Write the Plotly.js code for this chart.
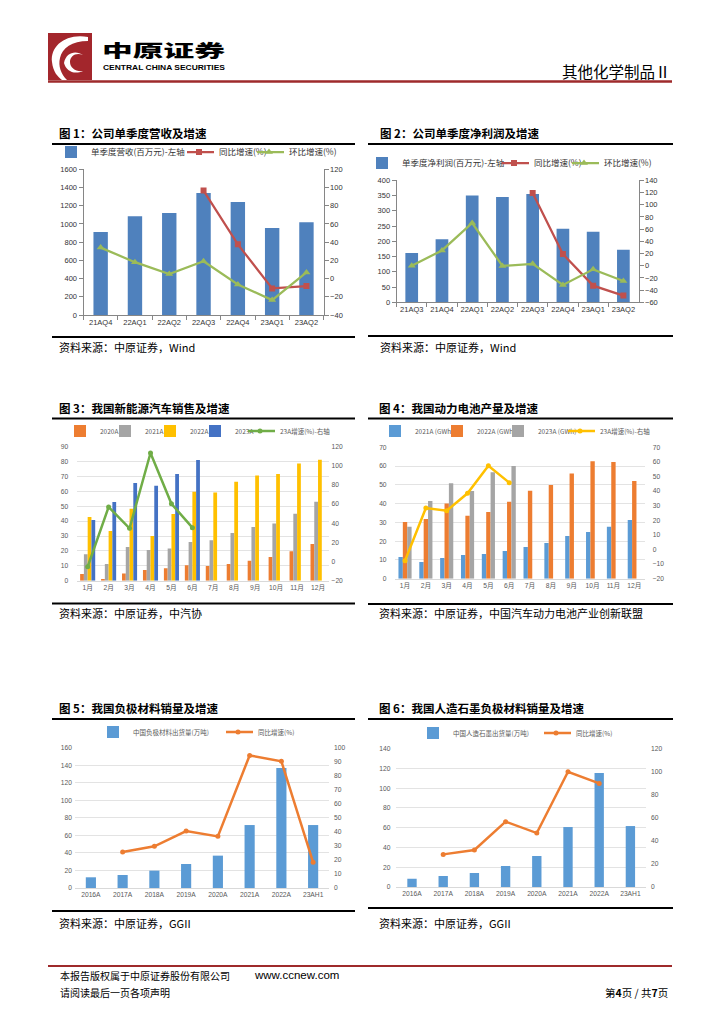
<!DOCTYPE html>
<html><head><meta charset="utf-8">
<script src="https://cdn.plot.ly/plotly-3.0.1.min.js"></script>
<style>
html,body{margin:0;padding:0;background:#fff;}
#wrap{position:relative;width:724px;height:1024px;overflow:hidden;background:#fff;}
#chart{position:absolute;left:0;top:0;width:724px;height:1024px;}
#logo{position:absolute;left:0;top:0;}
</style></head><body>
<div id="wrap"><div id="chart"></div>
<svg id="logo" width="724" height="90">
<rect x="48" y="33" width="44" height="47" fill="#A3262C"/>
<path d="M88 37 C66 33 50 46 52 62 C53 72 58 77 62 80 L67 80 C61 74 58 66 60 58 C62 48 72 41 88 41 Z" fill="#fff"/>
<path d="M64 63 C66 71 74 75 83 71 C76 72 70 68 70 62 C70 56 76 52 83 55 C76 50 66 52 64 63 Z" fill="#fff"/>
<text x="102" y="56.5" font-family="Noto Sans CJK SC" font-weight="900" font-size="17" textLength="123" lengthAdjust="spacingAndGlyphs">中原证券</text>
<text x="103" y="69.5" font-family="Liberation Sans" font-weight="bold" font-size="6.5" textLength="122" lengthAdjust="spacingAndGlyphs">CENTRAL CHINA SECURITIES</text>
</svg>
</div>
<script>
// ---------- DATA ----------
const quarters1 = ['21AQ4','22AQ1','22AQ2','22AQ3','22AQ4','23AQ1','23AQ2'];
const revenue1 = [912,1084,1121,1340,1242,956,1018];
const revYoY1 = [null,null,null,96.6,37.6,-10.8,-8.2];
const revQoQ1 = [34,18,5,19,-6.4,-23.6,6.8];

const quarters2 = ['21AQ3','21AQ4','22AQ1','22AQ2','22AQ3','22AQ4','23AQ1','23AQ2'];
const profit2 = [162,207,350,345,355,241,231,172];
const profitYoY2 = [null,null,null,null,119,19,-32.7,-49];
const profitQoQ2 = [0,25,70,-0.4,3,-31.6,-6,-25];

const months = ['1月','2月','3月','4月','5月','6月','7月','8月','9月','10月','11月','12月'];
const nev2020 = [4.5,1.1,4.9,7.2,8.3,10.3,9.8,11.2,13.4,15.9,19.7,24.6];
const nev2021 = [17.7,11.2,22.6,20.6,21.7,26,27.1,32,36,38.5,45,53];
const nev2022 = [42.8,33.4,48.4,30,44.8,59.8,59.3,66.5,70.7,71.6,78.8,81.3];
const nev2023 = [40.7,52.8,65.6,63.8,71.6,81];
const nevGrowth23 = [-5.4,57,34.7,113.4,60.4,35.4];

const bat2021 = [11.5,8.9,11,12.6,13.1,14.7,16.9,19,22.7,24.9,27.7,31.3];
const bat2022 = [30.2,31.8,40.1,33.6,35.5,41,46.9,49.9,56,62.6,62.2,52.1];
const bat2023 = [27.7,41.4,50.8,46.7,56.7,60];
const batGrowth23 = [-7.7,28.4,26.6,38.5,57.4,45.8];

const years = ['2016A','2017A','2018A','2019A','2020A','2021A','2022A','23AH1'];
const anode5 = [12.2,14.8,19.8,27.4,36.9,71.8,136.8,71.8];
const anodeYoY5 = [null,25.7,29.7,40.6,36.8,94.5,90.3,18.3];
const graphite6 = [8.4,11.1,14.2,21.3,31.4,60.7,115.4,61.7];
const graphiteYoY6 = [null,28.3,32.1,56.7,46.8,100,89.9,null];

const titles = ['图 1：公司单季度营收及增速','图 2：公司单季度净利润及增速','图 3：我国新能源汽车销售及增速','图 4：我国动力电池产量及增速','图 5：我国负极材料销量及增速','图 6：我国人造石墨负极材料销量及增速'];
const sources = ['资料来源：中原证券，Wind','资料来源：中原证券，Wind','资料来源：中原证券，中汽协','资料来源：中原证券，中国汽车动力电池产业创新联盟','资料来源：中原证券，GGII','资料来源：中原证券，GGII'];

// ---------- GEOMETRY ----------
const W = 724, H = 1024;
const fx = p => p / W;
const fy = p => 1 - p / H;
const geo = [
  {x0:83.5, x1:323.6, yt:169.3, yb:315},
  {x0:396.6, x1:638.5, yt:180.3, yb:302.3},
  {x0:77.2, x1:328.5, yt:446.7, yb:580.7},
  {x0:394.6, x1:644.7, yt:447.3, yb:578.7},
  {x0:75, x1:329, yt:747.7, yb:888},
  {x0:396.4, x1:646, yt:748.7, yb:887}
];
const xn = k => k===1 ? 'x' : 'x'+k;
const xkey = k => k===1 ? 'xaxis' : 'xaxis'+k;
const yl = k => (2*k-1)===1 ? 'y' : 'y'+(2*k-1);
const ylkey = k => (2*k-1)===1 ? 'yaxis' : 'yaxis'+(2*k-1);
const yr = k => 'y'+(2*k);
const yrkey = k => 'yaxis'+(2*k);

const CJK = 'Noto Sans CJK SC, Liberation Sans, sans-serif';
const LAT = 'Liberation Sans, Noto Sans CJK SC, sans-serif';

const layout = {width:W, height:H, margin:{l:0,r:0,t:0,b:0}, paper_bgcolor:'#fff', plot_bgcolor:'#fff',
  barmode:'overlay', showlegend:true, annotations:[], shapes:[], font:{family:LAT, color:'#333'}};

// one legend box per series, placed where the reference shows its entry
const IND = -8;
let legendCount = 0;
function newLegend(textX, cy, k){
  legendCount++;
  const key = legendCount===1 ? 'legend' : 'legend'+legendCount;
  const small = k>=3;
  const tx = small ? textX + 3 : textX;
  layout[key] = {x:fx(tx-40-IND), y:fy(cy), xanchor:'left', yanchor:'middle', orientation:'h',
    font:{size: small?6.5:8.5, color: small?'#595959':'#333', family:CJK}, bgcolor:'rgba(0,0,0,0)',
    borderwidth:0, itemwidth:30, indentation:IND, tracegroupgap:0};
  return key;
}

const traces = [];
function bar(k, name, x, y, color, width, offset, lx, ly){
  traces.push({type:'bar', name:name, x:x, y:y, xaxis:xn(k), yaxis:yl(k), legend:newLegend(lx,ly,k),
    marker:{color:color, line:{width:0}}, width:width, offset:offset, hoverinfo:'skip'});
}
function line(k, name, x, y, color, lw, sym, ms, lx, ly){
  traces.push({type:'scatter', mode:'lines+markers', name:name, x:x, y:y, xaxis:xn(k), yaxis:yr(k), legend:newLegend(lx,ly,k),
    line:{color:color, width:lw}, marker:{color:color, size:ms, symbol:sym}, connectgaps:false, hoverinfo:'skip'});
}

// chart 1
bar(1,'单季度营收(百万元)-左轴',quarters1,revenue1,'#4F81BD',0.42,-0.21, 91,152);
line(1,'同比增速(%)',quarters1,revYoY1,'#C0504D',2.25,'square',6, 219,152);
line(1,'环比增速(%)',quarters1,revQoQ1,'#9BBB59',2.25,'triangle-up',7, 289,152);
// chart 2
bar(2,'单季度净利润(百万元)-左轴',quarters2,profit2,'#4F81BD',0.42,-0.21, 402,163);
line(2,'同比增速(%)',quarters2,profitYoY2,'#C0504D',2.25,'square',6, 534,163);
line(2,'环比增速(%)',quarters2,profitQoQ2,'#9BBB59',2.25,'triangle-up',7, 604,163);
// chart 3
bar(3,'2020A',months,nev2020,'#ED7D31',0.18,-0.36, 97,431);
bar(3,'2021A',months,nev2021,'#A5A5A5',0.18,-0.18, 142,431);
bar(3,'2022A',months,nev2022,'#FFC000',0.18,0, 187,431);
bar(3,'2023A',months.slice(0,6),nev2023,'#4472C4',0.18,0.18, 232,431);
line(3,'23A增速(%)-右轴',months.slice(0,6),nevGrowth23,'#70AD47',2.5,'circle',5, 277,431);
// chart 4
bar(4,'2021A (GWh)',months,bat2021,'#5B9BD5',0.21,-0.315, 412,431);
bar(4,'2022A (GWh)',months,bat2022,'#ED7D31',0.21,-0.105, 474,431);
bar(4,'2023A (GWh)',months.slice(0,6),bat2023,'#A5A5A5',0.21,0.105, 535,431);
line(4,'23A增速(%)-右轴',months.slice(0,6),batGrowth23,'#FFC000',2.5,'circle',5, 597,431);
// chart 5
bar(5,'中国负极材料出货量(万吨)',years,anode5,'#5B9BD5',0.32,-0.16, 130,732);
line(5,'同比增速(%)',years,anodeYoY5,'#ED7D31',2.5,'circle',5, 255,732);
// chart 6
bar(6,'中国人造石墨出货量(万吨)',years,graphite6,'#5B9BD5',0.3,-0.15, 450,733);
line(6,'同比增速(%)',years,graphiteYoY6,'#ED7D31',2.5,'circle',5, 573,733);

function axesA(k, cats, lr, ld, rr, rd){
  const g = geo[k-1];
  const tf = {size:7.5, color:'#333', family:LAT};
  layout[xkey(k)] = {domain:[fx(g.x0),fx(g.x1)], anchor:yl(k), type:'category', categoryorder:'array', categoryarray:cats,
    range:[-0.5,cats.length-0.5], showline:true, linecolor:'#868686', linewidth:1, ticks:'outside', tickson:'boundaries',
    ticklen:4, tickcolor:'#868686', showgrid:false, zeroline:false, tickfont:tf, tickangle:0};
  layout[ylkey(k)] = {domain:[fy(g.yb),fy(g.yt)], anchor:xn(k), range:lr, tick0:lr[0], dtick:ld, showline:true,
    linecolor:'#868686', ticks:'outside', ticklen:4, tickcolor:'#868686', showgrid:false, zeroline:false, tickfont:tf};
  layout[yrkey(k)] = {overlaying:yl(k), side:'right', anchor:xn(k), range:rr, tick0:rr[0], dtick:rd, showline:true,
    linecolor:'#868686', ticks:'outside', ticklen:4, tickcolor:'#868686', showgrid:false, zeroline:false, tickfont:tf};
}
function axesB(k, cats, lr, ld, rr, rd, ls, rs){
  const g = geo[k-1];
  const tf = {size:6.7, color:'#595959', family:LAT};
  layout[xkey(k)] = {domain:[fx(g.x0),fx(g.x1)], anchor:yl(k), type:'category', categoryorder:'array', categoryarray:cats,
    range:[-0.5,cats.length-0.5], showline:true, linecolor:'#D9D9D9', linewidth:1, ticks:'', showgrid:false,
    zeroline:false, tickfont:tf, tickangle:0};
  layout[ylkey(k)] = {domain:[fy(g.yb),fy(g.yt)], anchor:xn(k), range:lr, tick0:lr[0], dtick:ld, showline:false,
    ticks:'', showgrid:true, gridcolor:'#D9D9D9', gridwidth:0.75, zeroline:false, tickfont:tf, ticklabelstandoff:ls};
  layout[yrkey(k)] = {overlaying:yl(k), side:'right', anchor:xn(k), range:rr, tick0:rr[0], dtick:rd, showline:false,
    ticks:'', showgrid:false, zeroline:false, tickfont:tf, ticklabelstandoff:rs};
}
axesA(1, quarters1, [0,1600], 200, [-40,120], 20);
axesA(2, quarters2, [0,400], 50, [-60,140], 20);
axesB(3, months, [0,90], 10, [-20,120], 20, 8, 2);
axesB(4, months, [0,70], 10, [-20,70], 10, 7, 7);
axesB(5, years, [0,160], 20, [0,100], 10, 2, 4);
axesB(6, years, [0,140], 20, [0,120], 20, 5, 4);

// titles, rules, sources
const tX = [57,377.5,57,377,57,377];
const tY = [133,133,408,408,708,708];
const uY = [144,144,418.5,418.5,719,719];
const bY = [337,336,603.5,604,911,908];
const sY = [347,347,613,613,923,923];
for(let i=0;i<6;i++){
  const left = i%2===0;
  const lx0 = left?52:368, lx1 = left?355:673;
  layout.annotations.push({text:'<b>'+titles[i]+'</b>', x:fx(tX[i]), y:fy(tY[i]), xref:'paper', yref:'paper',
    xanchor:'left', yanchor:'middle', showarrow:false, font:{size:11.5, color:'#000', family:CJK}});
  layout.annotations.push({text:sources[i], x:fx(tX[i]), y:fy(sY[i]), xref:'paper', yref:'paper',
    xanchor:'left', yanchor:'middle', showarrow:false, font:{size:11, color:'#000', family:CJK}});
  layout.shapes.push({type:'line', xref:'paper', yref:'paper', x0:fx(lx0), x1:fx(lx1), y0:fy(uY[i]), y1:fy(uY[i]), line:{color:'#000', width:2}});
  layout.shapes.push({type:'line', xref:'paper', yref:'paper', x0:fx(lx0), x1:fx(lx1), y0:fy(bY[i]), y1:fy(bY[i]), line:{color:'#000', width:2}});
}
// header / footer
layout.shapes.push({type:'line', xref:'paper', yref:'paper', x0:fx(48), x1:fx(672), y0:fy(81.5), y1:fy(81.5), line:{color:'#9E2A2B', width:2.5}});
layout.shapes.push({type:'line', xref:'paper', yref:'paper', x0:fx(48), x1:fx(672), y0:fy(966), y1:fy(966), line:{color:'#9E2A2B', width:2}});
function note(text, x, y, anchor, size, fam){
  layout.annotations.push({text:text, x:fx(x), y:fy(y), xref:'paper', yref:'paper', xanchor:anchor, yanchor:'middle',
    showarrow:false, font:{size:size, color:'#000', family:fam}});
}
note('其他化学制品Ⅱ', 673, 71, 'right', 15.5, CJK);
note('本报告版权属于中原证券股份有限公司', 58, 975, 'left', 10, CJK);
note('www.ccnew.com', 252, 975, 'left', 11.5, LAT);
note('请阅读最后一页各项声明', 58, 992, 'left', 10, CJK);
note('第<b>4</b>页 / 共<b>7</b>页', 670, 992, 'right', 10.5, CJK);

Plotly.newPlot('chart', traces, layout, {staticPlot:true, displayModeBar:false});
</script>
</body></html>
